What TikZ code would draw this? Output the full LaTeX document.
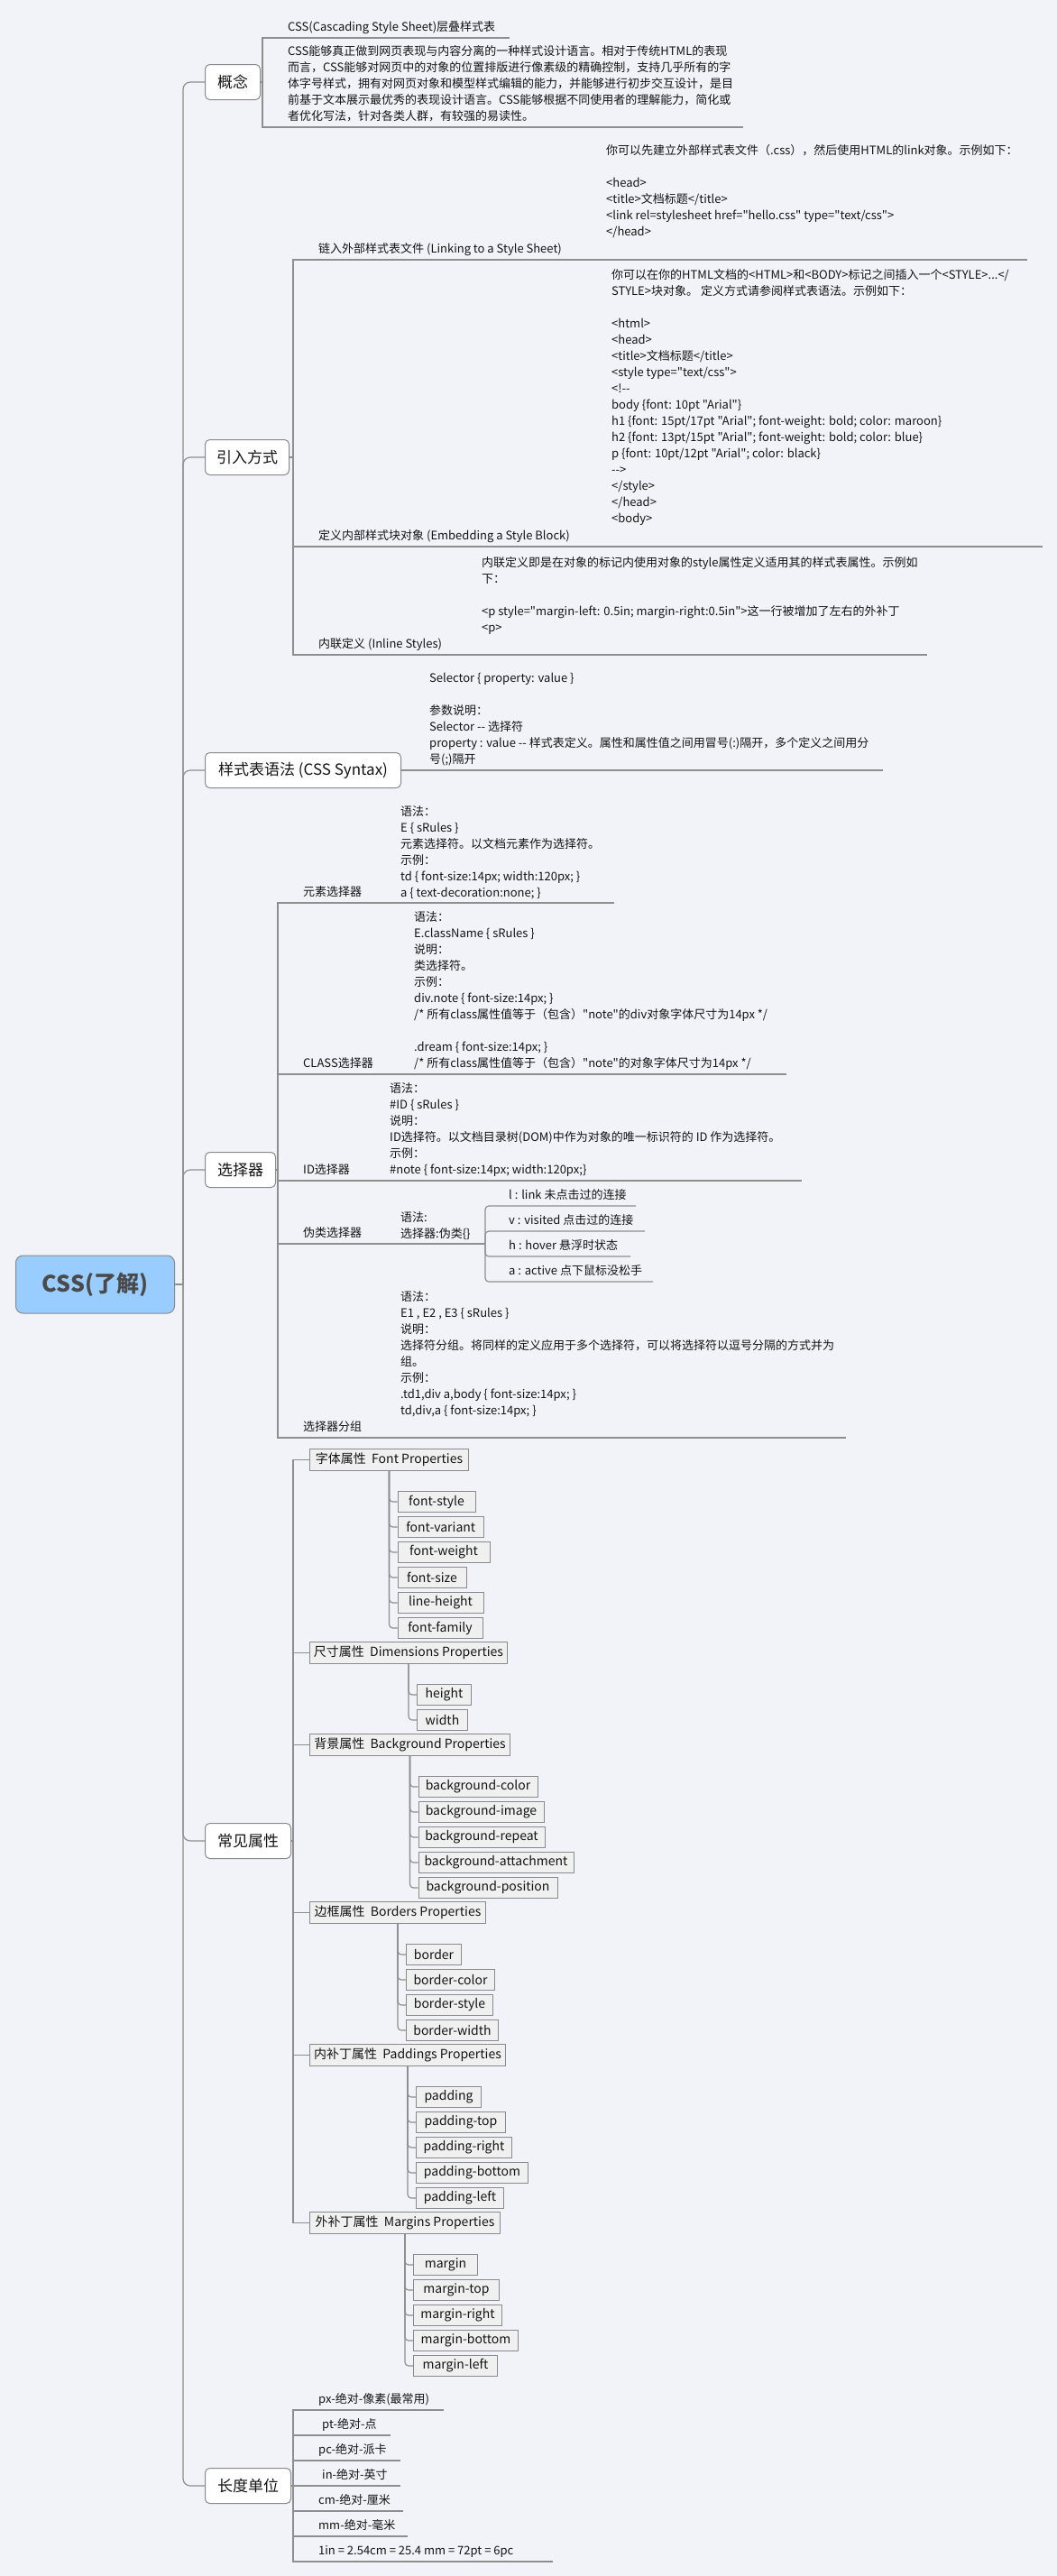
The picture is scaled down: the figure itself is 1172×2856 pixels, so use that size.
\documentclass[tikz,border=0pt]{standalone}
\usepackage{fontspec}
\setmainfont{Noto Sans CJK SC}[Ligatures=TeXOff]
\usetikzlibrary{calc}

\definecolor{bgc}{HTML}{F2F3F8}
\definecolor{linec}{HTML}{8E8E8E}
\definecolor{boxline}{HTML}{8A8A8A}
\definecolor{rootfill}{HTML}{99CCFF}
\definecolor{roottext}{HTML}{4A4A4A}
\definecolor{itemfill}{HTML}{F0F0F0}
\definecolor{txt}{HTML}{141414}

\newcommand{\dfont}{\fontsize{13}{18}\selectfont}
\newcommand{\bfont}{\fontsize{14}{18}\selectfont}
\newcommand{\mfont}{\fontsize{17}{22}\selectfont}

\tikzset{
  conn/.style={draw=linec, line width=1.2pt},
  mainbox/.style={draw=boxline, fill=white, rounded corners=5pt, line width=1pt,
    font=\mfont, text=txt, inner sep=0pt, minimum height=39pt, anchor=west},
  catbox/.style={draw=boxline, fill=itemfill, line width=1pt, font=\bfont,
    text=txt, inner sep=0pt, minimum height=23.5pt, anchor=west},
  ultext/.style={anchor=south west, inner sep=0pt, align=left, font=\dfont,
    text=txt, execute at end node={\strut}, yshift=1.6pt},
}

\begin{document}
\begin{tikzpicture}[x=1pt,y=-1pt]
\useasboundingbox (0,0) rectangle (1172,2856);
\fill[bgc] (0,0) rectangle (1172,2856);

% ---------- root and main branches ----------
\node[draw=boxline, fill=rootfill, rounded corners=8pt, line width=1pt,
  minimum width=176pt, minimum height=64pt, inner sep=0pt, anchor=west,
  font=\fontsize{25}{30}\selectfont\bfseries, text=roottext] (root) at (17,1424) {CSS(了解)};

\node[mainbox, minimum width=61pt] (gn) at (227,91) {概念};
\node[mainbox, minimum width=93pt] (yr) at (227,507) {引入方式};
\node[mainbox, minimum width=217pt] (yf) at (227,854) {样式表语法 (CSS Syntax)};
\node[mainbox, minimum width=78pt] (xz) at (227,1297) {选择器};
\node[mainbox, minimum width=95pt] (cj) at (227,2041) {常见属性};
\node[mainbox, minimum width=95pt] (cd) at (227,2756) {长度单位};

\coordinate (tr) at (203,1424);
\draw[conn] (root.east) -- (tr);
\foreach \b in {gn,yr,yf,xz,cj,cd}
  \draw[conn, rounded corners=8pt] (tr) |- (\b.west);

% ---------- 概念 ----------
\coordinate (gj) at (291,91);
\coordinate (g1a) at (291,42);  \coordinate (g1b) at (565,42);
\coordinate (g2a) at (291,141); \coordinate (g2b) at (824,141);
\draw[conn] (gn.east) -- (gj);
\draw[conn] (g1b) -- (g1a) -- (g2a) -- (g2b);
\node[ultext] (g1) at (319,42) {CSS(Cascading Style Sheet)层叠样式表};
\node[ultext] (g2) at (319,141) {CSS能够真正做到网页表现与内容分离的一种样式设计语言。相对于传统HTML的表现\\
而言，CSS能够对网页中的对象的位置排版进行像素级的精确控制，支持几乎所有的字\\
体字号样式，拥有对网页对象和模型样式编辑的能力，并能够进行初步交互设计，是目\\
前基于文本展示最优秀的表现设计语言。CSS能够根据不同使用者的理解能力，简化或\\
者优化写法，针对各类人群，有较强的易读性。};

% ---------- 引入方式 ----------
\coordinate (rj) at (325,507);
\coordinate (r1a) at (325,288); \coordinate (r1b) at (1139,288);
\coordinate (r2a) at (325,606); \coordinate (r2b) at (1156,606);
\coordinate (r3a) at (325,726); \coordinate (r3b) at (1028,726);
\draw[conn] (yr.east) -- (rj);
\draw[conn] (r1b) -- (r1a) -- (r3a) -- (r3b);
\draw[conn] (r2a) -- (r2b);

\node[ultext] (r1) at (353,288) {链入外部样式表文件 (Linking to a Style Sheet)};
\node[ultext] (r1d) at (672,269) {你可以先建立外部样式表文件（.css），然后使用HTML的link对象。示例如下：\\
\mbox{}\\
<head>\\
<title>文档标题</title>\\
<link rel=stylesheet href="hello.css" type="text/css">\\
</head>};

\node[ultext] (r2) at (353,606) {定义内部样式块对象 (Embedding a Style Block)};
\node[ultext] (r2d) at (678,587) {你可以在你的HTML文档的<HTML>和<BODY>标记之间插入一个<STYLE>...</\\
STYLE>块对象。 定义方式请参阅样式表语法。示例如下：\\
\mbox{}\\
<html>\\
<head>\\
<title>文档标题</title>\\
<style type="text/css">\\
<!--\\
body \{font: 10pt "Arial"\}\\
h1 \{font: 15pt/17pt "Arial"; font-weight: bold; color: maroon\}\\
h2 \{font: 13pt/15pt "Arial"; font-weight: bold; color: blue\}\\
p \{font: 10pt/12pt "Arial"; color: black\}\\
-->\\
</style>\\
</head>\\
<body>};

\node[ultext] (r3) at (353,726) {内联定义 (Inline Styles)};
\node[ultext] (r3d) at (534,708) {内联定义即是在对象的标记内使用对象的style属性定义适用其的样式表属性。示例如\\
下：\\
\mbox{}\\
<p style="margin-left: 0.5in; margin-right:0.5in">这一行被增加了左右的外补丁\\
<p>};

% ---------- 样式表语法 ----------
\coordinate (fe) at (979,854);
\draw[conn] (yf.east) -- (fe);
\node[ultext] (fd) at (476,854) {Selector \{ property: value \}\\
\mbox{}\\
参数说明：\\
Selector -- 选择符\\
property : value -- 样式表定义。属性和属性值之间用冒号(:)隔开，多个定义之间用分\\
号(;)隔开};

% ---------- 选择器 ----------
\coordinate (sj) at (308,1297);
\coordinate (s1a) at (308,1001); \coordinate (s1b) at (681,1001);
\coordinate (s2a) at (308,1191); \coordinate (s2b) at (872,1191);
\coordinate (s3a) at (308,1309); \coordinate (s3b) at (889,1309);
\coordinate (s4a) at (308,1379); \coordinate (s4b) at (536,1379);
\coordinate (s5a) at (308,1594); \coordinate (s5b) at (938,1594);
\draw[conn] (xz.east) -- (sj);
\draw[conn] (s1b) -- (s1a) -- (s5a) -- (s5b);
\draw[conn] (s2a) -- (s2b);
\draw[conn] (s3a) -- (s3b);
\draw[conn] (s4a) -- (s4b);

\node[ultext] (s1) at (336,1001) {元素选择器};
\node[ultext] (s1d) at (444,1002) {语法：\\
E \{ sRules \}\\
元素选择符。以文档元素作为选择符。\\
示例：\\
td \{ font-size:14px; width:120px; \}\\
a \{ text-decoration:none; \}};

\node[ultext] (s2) at (336,1191) {CLASS选择器};
\node[ultext] (s2d) at (459,1191) {语法：\\
E.className \{ sRules \}\\
说明：\\
类选择符。\\
示例：\\
div.note \{ font-size:14px; \}\\
/* 所有class属性值等于（包含）"note"的div对象字体尺寸为14px */\\
\mbox{}\\
.dream \{ font-size:14px; \}\\
/* 所有class属性值等于（包含）"note"的对象字体尺寸为14px */};

\node[ultext] (s3) at (336,1309) {ID选择器};
\node[ultext] (s3d) at (432,1309) {语法：\\
\#ID \{ sRules \}\\
说明：\\
ID选择符。以文档目录树(DOM)中作为对象的唯一标识符的 ID 作为选择符。\\
示例：\\
\#note \{ font-size:14px; width:120px;\}};

\node[ultext] (s4) at (336,1379) {伪类选择器};
\node[ultext] (s4d) at (444,1380) {语法:\\
选择器:伪类\{\}};

% pseudo-class entries
\coordinate (pj) at (538,1379);
\coordinate (p1b) at (705,1337);
\coordinate (p2b) at (715,1365);
\coordinate (p3b) at (699,1393);
\coordinate (p4b) at (724,1421);
\draw[conn] (s4b) -- (pj);
\foreach \p in {p1b,p2b,p3b,p4b}
  \draw[conn, rounded corners=4pt] (pj) |- (\p);
\node[ultext] (p1) at (564,1337) {l : link 未点击过的连接};
\node[ultext] (p2) at (564,1365) {v : visited 点击过的连接};
\node[ultext] (p3) at (564,1393) {h : hover 悬浮时状态};
\node[ultext] (p4) at (564,1421) {a : active 点下鼠标没松手};

\node[ultext] (s5) at (336,1594) {选择器分组};
\node[ultext] (s5d) at (444,1576) {语法：\\
E1 , E2 , E3 \{ sRules \}\\
说明：\\
选择符分组。将同样的定义应用于多个选择符，可以将选择符以逗号分隔的方式并为\\
组。\\
示例：\\
.td1,div a,body \{ font-size:14px; \}\\
td,div,a \{ font-size:14px; \}};

% ---------- 常见属性 ----------
\coordinate (cjj) at (325,2041);
\draw[conn] (cj.east) -- (cjj);

\node[catbox, minimum width=176pt] (cf) at (343,1618.5) {字体属性\ \ Font Properties};
\node[catbox, minimum width=219pt] (cs) at (343,1832.5) {尺寸属性\ \ Dimensions Properties};
\node[catbox, minimum width=222pt] (cb) at (343,1934.5) {背景属性\ \ Background Properties};
\node[catbox, minimum width=195pt] (cr) at (343,2120.5) {边框属性\ \ Borders Properties};
\node[catbox, minimum width=217pt] (cp) at (343,2278.5) {内补丁属性\ \ Paddings Properties};
\node[catbox, minimum width=211pt] (cm) at (343,2464.5) {外补丁属性\ \ Margins Properties};

\foreach \c in {cf,cs,cb,cr,cp,cm}
  \draw[conn] (cjj) |- (\c.west);

% property entries under each group: name/width
\foreach \c/\list in {
    cf/{font-style/86,font-variant/95.5,font-weight/102,font-size/76,line-height/95,font-family/94},
    cs/{height/60,width/56},
    cb/{background-color/132,background-image/139,background-repeat/140,background-attachment/172,background-position/154},
    cr/{border/61,border-color/98,border-style/96,border-width/102},
    cp/{padding/72,padding-top/99,padding-right/106,padding-bottom/124,padding-left/97},
    cm/{margin/71,margin-top/95,margin-right/98,margin-bottom/116,margin-left/93}} {
  \foreach \t/\w [count=\i from 0] in \list {
    \node[catbox, minimum width=\w pt] (\c-\i) at ($(\c.south)+(9,{34.25+28*\i})$) {\t};
    \draw[conn, rounded corners=4pt] (\c.south) |- (\c-\i.west);
  }
}

% ---------- 长度单位 ----------
\coordinate (dj) at (325,2756);
\draw[conn] (cd.east) -- (dj);
\foreach \t/\xs/\xe [count=\i from 0] in {
    px-绝对-像素(最常用)/353/492,
    pt-绝对-点/357/433,
    pc-绝对-派卡/353/444,
    in-绝对-英寸/357/444,
    cm-绝对-厘米/353/447,
    mm-绝对-毫米/353/452,
    1in = 2.54cm = 25.4 mm = 72pt = 6pc/353/613} {
  \coordinate (d\i b) at (\xe,{2672+28*\i});
  \draw[conn] (dj) |- (d\i b);
  \node[ultext] (d\i) at (\xs,{2672+28*\i}) {\t};
}

\end{tikzpicture}
\end{document}
